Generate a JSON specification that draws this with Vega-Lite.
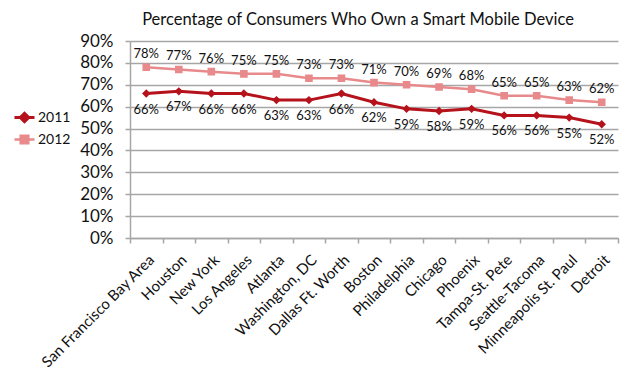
{
  "$schema": "https://vega.github.io/schema/vega-lite/v6.json",
  "width": 488,
  "height": 197,
  "autosize": {"type": "none"},
  "padding": {"left": 130, "top": 41, "right": 22, "bottom": 137},
  "background": "white",
  "title": {
    "text": "Percentage of Consumers Who Own a Smart Mobile Device",
    "font": "Lato",
    "fontSize": 16.5,
    "fontWeight": "normal",
    "color": "#111111",
    "anchor": "middle",
    "dx": -16,
    "offset": 4
  },
  "config": {
    "view": {"stroke": null},
    "font": "Lato"
  },
  "data": {
    "values": [
      {"city": "San Francisco Bay Area", "year": "2011", "value": 0.66},
      {"city": "Houston", "year": "2011", "value": 0.67},
      {"city": "New York", "year": "2011", "value": 0.66},
      {"city": "Los Angeles", "year": "2011", "value": 0.66},
      {"city": "Atlanta", "year": "2011", "value": 0.63},
      {"city": "Washington, DC", "year": "2011", "value": 0.63},
      {"city": "Dallas Ft. Worth", "year": "2011", "value": 0.66},
      {"city": "Boston", "year": "2011", "value": 0.62},
      {"city": "Philadelphia", "year": "2011", "value": 0.59},
      {"city": "Chicago", "year": "2011", "value": 0.58},
      {"city": "Phoenix", "year": "2011", "value": 0.59},
      {"city": "Tampa-St. Pete", "year": "2011", "value": 0.56},
      {"city": "Seattle-Tacoma", "year": "2011", "value": 0.56},
      {"city": "Minneapolis St. Paul", "year": "2011", "value": 0.55},
      {"city": "Detroit", "year": "2011", "value": 0.52},
      {"city": "San Francisco Bay Area", "year": "2012", "value": 0.78},
      {"city": "Houston", "year": "2012", "value": 0.77},
      {"city": "New York", "year": "2012", "value": 0.76},
      {"city": "Los Angeles", "year": "2012", "value": 0.75},
      {"city": "Atlanta", "year": "2012", "value": 0.75},
      {"city": "Washington, DC", "year": "2012", "value": 0.73},
      {"city": "Dallas Ft. Worth", "year": "2012", "value": 0.73},
      {"city": "Boston", "year": "2012", "value": 0.71},
      {"city": "Philadelphia", "year": "2012", "value": 0.70},
      {"city": "Chicago", "year": "2012", "value": 0.69},
      {"city": "Phoenix", "year": "2012", "value": 0.68},
      {"city": "Tampa-St. Pete", "year": "2012", "value": 0.65},
      {"city": "Seattle-Tacoma", "year": "2012", "value": 0.65},
      {"city": "Minneapolis St. Paul", "year": "2012", "value": 0.63},
      {"city": "Detroit", "year": "2012", "value": 0.62}
    ]
  },
  "encoding": {
    "x": {
      "field": "city",
      "type": "nominal",
      "sort": null,
      "bandPosition": 0.5,
      "scale": {"type": "band", "paddingInner": 0, "paddingOuter": 0},
      "axis": {
        "title": null,
        "labelAngle": -45,
        "labelFontSize": 15,
        "labelColor": "#111111",
        "labelPadding": 9,
        "tickBand": "extent",
        "tickColor": "#A6A6A6",
        "tickSize": 5,
        "domainColor": "#A6A6A6",
        "domainWidth": 1.5,
        "tickWidth": 1.5,
        "grid": false
      }
    },
    "y": {
      "field": "value",
      "type": "quantitative",
      "scale": {"domain": [0, 0.9], "nice": false},
      "axis": {
        "title": null,
        "values": [0, 0.1, 0.2, 0.3, 0.4, 0.5, 0.6, 0.7, 0.8, 0.9],
        "format": ".0%",
        "labelFontSize": 17,
        "labelColor": "#111111",
        "labelPadding": 12,
        "tickSize": 5,
        "tickColor": "#A6A6A6",
        "tickWidth": 1.5,
        "domainColor": "#A6A6A6",
        "domainWidth": 1.5,
        "gridColor": "#A6A6A6",
        "gridWidth": 1.5
      }
    }
  },
  "layer": [
    {
      "mark": {"type": "line"},
      "encoding": {
        "stroke": {
          "field": "year",
          "type": "nominal",
          "scale": {"domain": ["2011", "2012"], "range": ["#B5121B", "#E8898B"]},
          "legend": {
            "title": null,
            "orient": "none",
            "legendX": -117,
            "legendY": 65,
            "labelFontSize": 14,
            "labelColor": "#111111",
            "symbolSize": 400,
            "symbolStrokeWidth": 2.5,
            "rowPadding": 0,
            "labelOffset": 2
          }
        },
        "strokeWidth": {
          "field": "year",
          "type": "nominal",
          "scale": {"domain": ["2011", "2012"], "range": [3, 2.5]},
          "legend": null
        }
      }
    },
    {
      "mark": {"type": "point", "filled": true, "opacity": 1, "size": 400},
      "encoding": {
        "fill": {
          "field": "year",
          "type": "nominal",
          "scale": {"domain": ["2011", "2012"], "range": ["#B5121B", "#E8898B"]},
          "legend": {
            "title": null,
            "orient": "none",
            "legendX": -117,
            "legendY": 65,
            "labelFontSize": 14,
            "labelColor": "#111111",
            "symbolSize": 400,
            "symbolStrokeWidth": 2.5,
            "rowPadding": 0,
            "labelOffset": 2
          }
        },
        "shape": {
          "field": "year",
          "type": "nominal",
          "scale": {
            "domain": ["2011", "2012"],
            "range": [
              "M-1,0L1,0M0,-0.42L0.42,0L0,0.42L-0.42,0Z",
              "M-1,0L1,0M-0.38,-0.38L0.38,-0.38L0.38,0.38L-0.38,0.38Z"
            ]
          }
        }
      }
    },
    {
      "mark": {"type": "text", "fontSize": 13, "color": "#111111"},
      "transform": [{"filter": "datum.year == '2011'"}],
      "encoding": {
        "text": {"field": "value", "type": "quantitative", "format": ".0%"},
        "yOffset": {"value": 16}
      }
    },
    {
      "mark": {"type": "text", "fontSize": 13, "color": "#111111"},
      "transform": [{"filter": "datum.year == '2012'"}],
      "encoding": {
        "text": {"field": "value", "type": "quantitative", "format": ".0%"},
        "yOffset": {"value": -13}
      }
    }
  ]
}
